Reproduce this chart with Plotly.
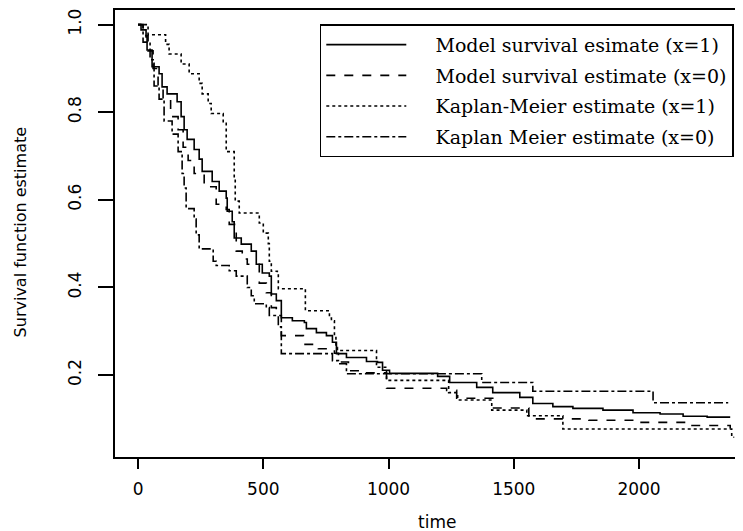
import plotly.graph_objects as go

# survival curves (time at which the step occurs, value after it)
t_model1 = [0, 12, 32, 36, 56, 84, 96, 116, 156, 172, 184, 196, 224, 244, 256, 296, 324, 352,
            356, 376, 384, 412, 452, 472, 496, 524, 532, 552, 572, 616, 664, 672, 712, 752, 776,
            792, 832, 912, 956, 976, 1004, 1196, 1244, 1352, 1416, 1524, 1576, 1656, 1736, 1856,
            1976, 2084, 2176, 2272, 2364]
s_model1 = [1.0, 0.988, 0.972, 0.942, 0.904, 0.888, 0.858, 0.842, 0.824, 0.79, 0.76, 0.738, 0.715,
            0.693, 0.665, 0.642, 0.62, 0.604, 0.574, 0.55, 0.513, 0.499, 0.483, 0.453, 0.433, 0.426,
            0.385, 0.37, 0.331, 0.324, 0.32, 0.306, 0.297, 0.29, 0.275, 0.249, 0.24, 0.231, 0.229,
            0.211, 0.204, 0.197, 0.183, 0.172, 0.16, 0.149, 0.135, 0.128, 0.124, 0.12, 0.114, 0.111,
            0.106, 0.104, 0.104]

t_model0 = [0, 20, 40, 60, 80, 100, 130, 160, 180, 200, 224, 264, 312, 352, 364, 392, 416, 436,
            484, 512, 532, 552, 572, 660, 720, 784, 800, 840, 900, 992, 1232, 1272, 1416, 1560,
            1800, 2000, 2200, 2364]
s_model0 = [1.0, 0.975, 0.94, 0.9, 0.86, 0.83, 0.79, 0.76, 0.72, 0.69, 0.66, 0.63, 0.59, 0.578,
            0.544, 0.483, 0.465, 0.453, 0.41, 0.388, 0.354, 0.336, 0.29, 0.27, 0.26, 0.25, 0.23,
            0.21, 0.205, 0.17, 0.165, 0.147, 0.125, 0.10, 0.097, 0.092, 0.085, 0.078]

t_km1 = [0, 40, 110, 124, 172, 204, 244, 256, 280, 292, 340, 352, 384, 388, 404, 484, 500, 520,
         524, 532, 556, 560, 668, 764, 772, 784, 790, 796, 952, 992, 1240, 1276, 1412, 1552, 1696,
         2370, 2380]
s_km1 = [1.0, 0.977, 0.955, 0.933, 0.91, 0.888, 0.866, 0.842, 0.82, 0.797, 0.775, 0.71, 0.65,
         0.597, 0.57, 0.547, 0.524, 0.50, 0.46, 0.437, 0.43, 0.397, 0.347, 0.33, 0.324, 0.29, 0.263,
         0.256, 0.218, 0.188, 0.16, 0.143, 0.12, 0.107, 0.077, 0.058, 0.058]

t_km0 = [0, 20, 48, 64, 84, 104, 136, 160, 176, 184, 192, 224, 232, 244, 300, 312, 364, 392, 436,
         452, 464, 512, 524, 560, 572, 776, 800, 832, 1372, 1576, 2056, 2356]
s_km0 = [1.0, 0.96, 0.92, 0.86, 0.83, 0.78, 0.75, 0.71, 0.66, 0.627, 0.58, 0.556, 0.52, 0.488,
         0.46, 0.45, 0.438, 0.426, 0.40, 0.381, 0.363, 0.354, 0.336, 0.31, 0.249, 0.233, 0.226,
         0.203, 0.183, 0.163, 0.137, 0.137]

series = [
    ("Model survival esimate (x=1)", t_model1, s_model1, "solid"),
    ("Model survival estimate (x=0)", t_model0, s_model0, "dash"),
    ("Kaplan-Meier estimate (x=1)", t_km1, s_km1, "dot"),
    ("Kaplan Meier estimate (x=0)", t_km0, s_km0, "dashdot"),
]

fig = go.Figure()
for i, (name, t, s, dash) in enumerate(series):
    fig.add_trace(go.Scatter(
        x=t, y=s, name="    " + name, mode="lines", legendgroup=str(i),
        line=dict(color="black", width=1.6, dash=dash, shape="hv"),
    ))

tick_font = dict(family="DejaVu Sans", size=17, color="black")

# the page body adds an 8px offset, so the plot area is shifted up/left to compensate;
# the right side of the frame runs past the window edge, as in the reference
fig.update_layout(
    width=743, height=531,
    margin=dict(l=107, r=0, t=0, b=82),
    paper_bgcolor="white", plot_bgcolor="white",
    showlegend=True,
    legend=dict(
        x=0.322, y=0.968, xanchor="left", yanchor="top",
        bordercolor="black", borderwidth=1.5, bgcolor="white",
        font=dict(family="DejaVu Serif", size=19, color="black"),
        itemwidth=80, traceorder="grouped", tracegroupgap=3,
    ),
    xaxis=dict(
        range=[-92, 2447], tickvals=[0, 500, 1000, 1500, 2000],
        showgrid=False, zeroline=False, showline=True, mirror=True,
        linecolor="black", linewidth=1.5,
        ticks="outside", ticklen=10, tickwidth=1.5, tickcolor="black",
        tickfont=tick_font, ticklabelstandoff=6,
    ),
    yaxis=dict(
        range=[0.013, 1.0334], tickvals=[0.2, 0.4, 0.6, 0.8, 1.0],
        ticktext=["0.2", "0.4", "0.6", "0.8", "1.0"],
        showgrid=False, zeroline=False, showline=True,
        linecolor="black", linewidth=1.5,
        ticks="outside", ticklen=15, tickwidth=1.5, tickcolor="black",
        tickfont=tick_font, tickangle=-90, ticklabelstandoff=10,
    ),
    annotations=[
        dict(text="time", xref="paper", yref="paper", x=0.506, y=-0.145,
             xanchor="center", yanchor="middle", showarrow=False,
             font=dict(family="DejaVu Sans", size=17, color="black")),
        dict(text="Survival function estimate", xref="paper", yref="paper", x=-0.149, y=0.503,
             xanchor="center", yanchor="middle", showarrow=False, textangle=-90,
             font=dict(family="DejaVu Sans", size=16, color="black")),
    ],
)

fig.write_html("out.html")
